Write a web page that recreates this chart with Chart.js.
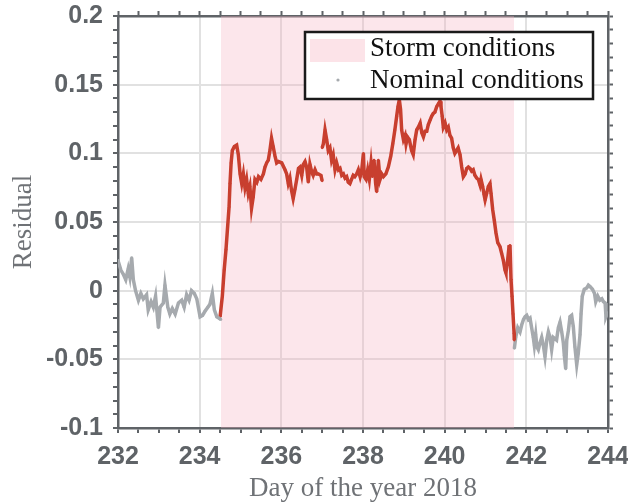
<!DOCTYPE html>
<html><head><meta charset="utf-8">
<script src="https://cdn.jsdelivr.net/npm/chart.js@4.4.1/dist/chart.umd.min.js"></script>
<style>html,body{margin:0;padding:0;background:#fff;overflow:hidden;}</style>
</head><body>
<canvas id="c" width="628" height="502"></canvas>
<script>
// ---------- data ----------
const nominalDaysA = [232.00,232.07,232.13,232.19,232.25,232.29,232.335,232.375,232.43,232.50,232.56,232.62,232.70,232.74,232.81,232.865,232.92,232.99,233.03,233.11,233.15,233.22,233.27,233.33,233.40,233.48,233.56,233.62,233.68,233.74,233.80,233.87,233.93,234.01,234.07,234.13,234.20,234.25,234.31,234.36,234.42,234.47,234.52];
const nominalValsA = [0.022,0.015,0.012,0.008,0.016,0.010,0.024,0.008,0.000,-0.007,-0.002,-0.006,-0.003,-0.014,-0.008,-0.012,-0.004,-0.027,-0.012,-0.009,0.004,-0.012,-0.017,-0.013,-0.017,-0.009,-0.007,-0.012,-0.003,-0.007,0.000,-0.002,-0.006,-0.019,-0.018,-0.015,-0.012,-0.010,-0.002,-0.014,-0.019,-0.020,-0.021];

const stormDays = [234.50,234.555,234.60,234.645,234.686,234.72,234.743,234.77,234.80,234.85,234.906,234.947,234.99,235.03,235.07,235.11,235.15,235.19,235.23,235.27,235.31,235.355,235.40,235.44,235.50,235.56,235.60,235.64,235.68,235.72,235.76,235.80,235.845,235.886,235.93,236.01,236.09,236.13,236.17,236.21,236.25,236.29,236.335,236.376,236.42,236.457,236.50,236.54,236.58,236.62,236.66,236.70,236.74,236.78,236.825,236.866,236.906,236.97,237.00,
237.00,237.00,237.03,237.07,237.11,237.15,237.19,237.23,237.27,237.315,237.355,237.40,237.437,237.48,237.52,237.56,237.60,237.64,237.68,237.72,237.76,237.80,237.845,237.886,237.93,237.97,238.01,238.03,238.074,238.115,238.155,238.197,238.23,238.27,238.31,238.335,238.376,238.417,238.458,238.50,238.56,238.62,238.68,238.73,238.78,238.825,238.857,238.89,238.92,238.947,238.99,239.03,239.054,239.087,239.135,239.19,239.23,239.275,239.315,239.355,239.40,239.44,239.48,239.52,239.56,239.60,239.64,239.68,239.72,239.76,239.805,239.845,239.886,239.91,239.94,239.967,240.01,240.05,240.09,240.13,240.17,240.21,240.25,240.29,240.33,240.376,240.417,240.457,240.50,240.54,240.58,240.62,240.66,240.70,240.74,240.784,240.825,240.866,240.89,240.93,240.964,240.99,241.03,241.07,241.11,241.135,241.176,241.216,241.257,241.30,241.355,241.397,241.437,241.478,241.50,241.535,241.576,241.60,241.625,241.65,241.674,241.70,241.705];
const stormVals = [-0.019,-0.004,0.015,0.030,0.047,0.061,0.078,0.093,0.102,0.105,0.106,0.099,0.085,0.078,0.085,0.075,0.081,0.071,0.076,0.060,0.068,0.081,0.079,0.083,0.081,0.085,0.090,0.093,0.095,0.102,0.111,0.105,0.098,0.093,0.094,0.093,0.088,0.085,0.078,0.082,0.073,0.067,0.074,0.081,0.089,0.090,0.084,0.092,0.094,0.090,0.079,0.092,0.087,0.084,0.088,0.085,0.085,0.084,0.080,
null,0.104,0.107,0.117,0.110,0.102,0.104,0.095,0.099,0.088,0.093,0.088,0.089,0.084,0.085,0.082,0.083,0.079,0.078,0.081,0.084,0.083,0.085,0.088,0.083,0.088,0.100,0.083,0.081,0.088,0.081,0.093,0.083,0.095,0.078,0.072,0.095,0.081,0.085,0.083,0.085,0.090,0.098,0.107,0.117,0.127,0.134,0.139,0.132,0.117,0.110,0.113,0.107,0.112,0.110,0.102,0.099,0.110,0.117,0.119,0.122,0.115,0.112,0.116,0.116,0.121,0.124,0.127,0.129,0.130,0.134,0.136,0.138,0.134,0.127,0.119,0.122,0.117,0.119,0.113,0.111,0.104,0.100,0.102,0.104,0.099,0.090,0.083,0.085,0.089,0.090,0.089,0.087,0.088,0.084,0.082,0.081,0.077,0.081,0.076,0.070,0.066,0.071,0.076,0.078,0.071,0.059,0.051,0.042,0.035,0.032,0.027,0.022,0.015,0.013,0.020,0.032,0.033,0.008,-0.004,-0.017,-0.031,-0.036];

const nominalDaysB = [241.707,241.74,241.79,241.845,241.886,241.93,241.97,242.01,242.05,242.09,242.13,242.17,242.196,242.23,242.26,242.294,242.335,242.376,242.417,242.457,242.50,242.54,242.58,242.62,242.66,242.70,242.74,242.784,242.825,242.866,242.906,242.93,242.964,242.99,243.03,243.07,243.11,243.15,243.19,243.234,243.27,243.315,243.34,243.37,243.42,243.48,243.52,243.56,243.62,243.67,243.70,243.75,243.80,243.85,243.886,243.93,243.95,243.99];
const nominalValsB = [-0.042,-0.034,-0.027,-0.030,-0.025,-0.021,-0.019,-0.018,-0.021,-0.020,-0.027,-0.034,-0.040,-0.032,-0.041,-0.043,-0.038,-0.034,-0.040,-0.048,-0.036,-0.030,-0.034,-0.043,-0.034,-0.035,-0.036,-0.027,-0.023,-0.030,-0.038,-0.047,-0.057,-0.036,-0.029,-0.019,-0.018,-0.026,-0.041,-0.054,-0.046,-0.032,-0.017,-0.004,0.001,0.002,0.004,0.003,0.001,-0.002,-0.008,-0.004,-0.007,-0.006,-0.008,-0.009,-0.019,-0.016];

const stormPeriod = [234.52, 241.70];
const xTickLabels = [232, 234, 236, 238, 240, 242, 244];
const yTickLabels = [-0.1, -0.05, 0, 0.05, 0.1, 0.15, 0.2];
const legendLabels = ['Storm conditions', 'Nominal conditions'];
const xTitle = 'Day of the year 2018';
const yTitle = 'Residual';

// ---------- styling ----------
const AXIS = '#5f6367';
const GRID = '#e1e1e1';
const RED = '#c83f2f';
const GRAY = '#a6aaae';
const PINK = 'rgba(246,178,192,0.32)';
const PINK_SOLID = '#fce3e8';

const toPts = (xs, ys) => xs.map((d, i) => ({x: d, y: ys[i]}));
const isMajor = (v, list) => list.some(t => Math.abs(t - v) < 1e-6);

const tickFont = {family: '"Liberation Sans", Arial, sans-serif', size: 25, weight: 'bold'};
const titleFont = {family: '"Liberation Serif", "Times New Roman", serif', size: 27, lineHeight: 1};

const noPad = s => { s.paddingLeft = 0; s.paddingRight = 0; s.paddingTop = 0; s.paddingBottom = 0; };

const legendPlugin = {
  id: 'boxLegend',
  afterDraw(chart) {
    const ctx = chart.ctx, ca = chart.chartArea;
    const L = ca.left + 187, T = ca.top + 16, W = 288, H = 67;
    ctx.save();
    ctx.fillStyle = '#fff';
    ctx.fillRect(L, T, W, H);
    ctx.lineWidth = 2.5;
    ctx.strokeStyle = '#1a1a1a';
    ctx.strokeRect(L, T, W, H);
    ctx.fillStyle = PINK_SOLID;
    ctx.fillRect(L + 5, T + 7, 55, 23);
    ctx.fillStyle = GRAY;
    ctx.beginPath();
    ctx.arc(L + 33, T + 48, 1.6, 0, Math.PI * 2);
    ctx.fill();
    ctx.fillStyle = '#111';
    ctx.font = '27px "Liberation Serif", "Times New Roman", serif';
    ctx.textBaseline = 'alphabetic';
    ctx.textAlign = 'left';
    ctx.fillText(legendLabels[0], L + 65, T + 24);
    ctx.fillText(legendLabels[1], L + 65, T + 56);
    ctx.restore();
  }
};

const lineDs = (label, pts, color, order) => ({
  label, data: pts, borderColor: color, backgroundColor: color,
  borderWidth: 3.5, pointRadius: 1.4, pointBorderWidth: 0, pointBackgroundColor: color,
  tension: 0, fill: false, order, spanGaps: false
});

new Chart(document.getElementById('c'), {
  type: 'line',
  data: {
    datasets: [
      {
        label: legendLabels[0],
        data: [{x: stormPeriod[0], y: yTickLabels[yTickLabels.length - 1]}, {x: stormPeriod[1], y: yTickLabels[yTickLabels.length - 1]}],
        borderWidth: 0, pointRadius: 0, fill: 'start', backgroundColor: PINK, borderColor: 'rgba(0,0,0,0)', order: 10
      },
      lineDs(legendLabels[1], toPts(nominalDaysA, nominalValsA), GRAY, 1),
      lineDs('storm', toPts(stormDays, stormVals), RED, 1),
      lineDs(legendLabels[1] + ' B', toPts(nominalDaysB, nominalValsB), GRAY, 1)
    ]
  },
  options: {
    responsive: false,
    animation: false,
    devicePixelRatio: 1,
    layout: {padding: 0},
    plugins: {legend: {display: false}, tooltip: {enabled: false}},
    scales: {
      x: {
        type: 'linear', position: 'bottom',
        min: xTickLabels[0], max: xTickLabels[xTickLabels.length - 1],
        afterFit: s => { s.height = 74; noPad(s); },
        ticks: {
          stepSize: 0.5, autoSkip: false, maxRotation: 0, includeBounds: true,
          font: tickFont, color: AXIS, padding: 9,
          callback: v => isMajor(v, xTickLabels) ? String(xTickLabels.find(t => Math.abs(t - v) < 1e-6)) : ''
        },
        grid: {
          color: c => (c.tick && isMajor(c.tick.value, xTickLabels)) ? GRID : 'rgba(0,0,0,0)',
          lineWidth: 2, tickColor: AXIS, tickLength: 5, tickWidth: 2
        },
        border: {color: AXIS, width: 2.5},
        title: {display: true, text: xTitle, font: titleFont, color: '#6f7276', padding: {top: 0, bottom: 0}}
      },
      xTop: {
        type: 'linear', position: 'top', axis: 'x',
        min: xTickLabels[0], max: xTickLabels[xTickLabels.length - 1],
        afterFit: s => { s.height = 16; noPad(s); },
        ticks: {stepSize: 0.5, autoSkip: false, display: false},
        grid: {drawOnChartArea: false, tickColor: AXIS, tickLength: 5, tickWidth: 2, color: AXIS},
        border: {color: AXIS, width: 2.5}
      },
      y: {
        type: 'linear', position: 'left',
        min: yTickLabels[0], max: yTickLabels[yTickLabels.length - 1],
        afterFit: s => { s.width = 118; noPad(s); },
        ticks: {
          stepSize: 0.01, autoSkip: false, font: tickFont, color: AXIS, padding: 10,
          callback: v => { const t = yTickLabels.find(t => Math.abs(t - v) < 1e-6); return t === undefined ? '' : String(t); }
        },
        grid: {
          color: c => (c.tick && isMajor(c.tick.value, yTickLabels)) ? GRID : 'rgba(0,0,0,0)',
          lineWidth: 2, tickColor: AXIS, tickLength: 5, tickWidth: 2
        },
        border: {color: AXIS, width: 2.5},
        title: {display: true, text: yTitle, font: titleFont, color: '#6f7276', padding: {top: 10, bottom: 0}}
      },
      yRight: {
        type: 'linear', position: 'right', axis: 'y',
        min: yTickLabels[0], max: yTickLabels[yTickLabels.length - 1],
        afterFit: s => { s.width = 20; noPad(s); },
        ticks: {stepSize: 0.01, autoSkip: false, display: false},
        grid: {drawOnChartArea: false, tickColor: AXIS, tickLength: 5, tickWidth: 2, color: AXIS},
        border: {color: AXIS, width: 2.5}
      }
    }
  },
  plugins: [legendPlugin]
});
</script>
</body></html>
